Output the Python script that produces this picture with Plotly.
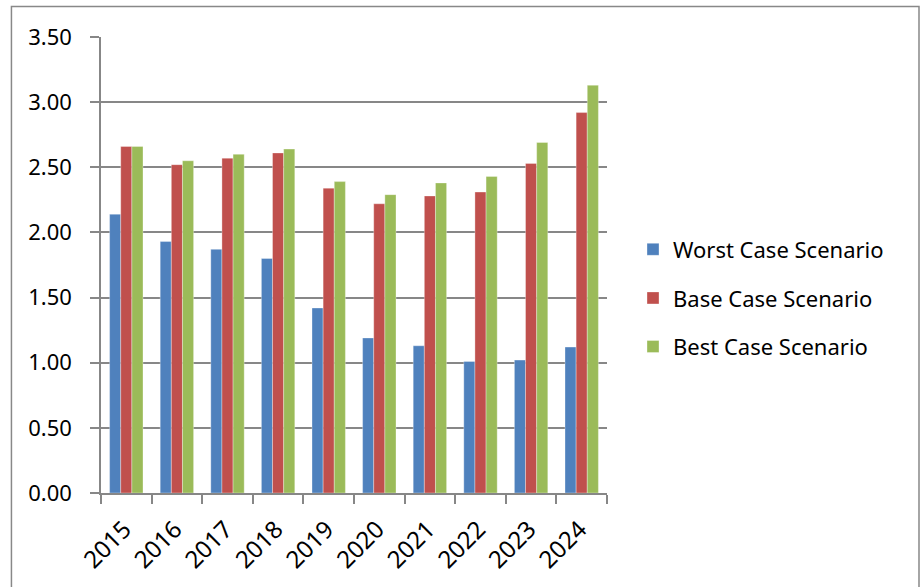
import plotly.graph_objects as go

years = ["2015", "2016", "2017", "2018", "2019", "2020", "2021", "2022", "2023", "2024"]
worst_case = [2.14, 1.93, 1.87, 1.80, 1.42, 1.19, 1.13, 1.01, 1.02, 1.12]
base_case = [2.66, 2.52, 2.57, 2.61, 2.34, 2.22, 2.28, 2.31, 2.53, 2.92]
best_case = [2.66, 2.55, 2.60, 2.64, 2.39, 2.29, 2.38, 2.43, 2.69, 3.13]
y_ticks = [0, 0.5, 1.0, 1.5, 2.0, 2.5, 3.0, 3.5]

series = [
    ("Worst Case Scenario", worst_case, "#4F81BD"),
    ("Base Case Scenario", base_case, "#C0504D"),
    ("Best Case Scenario", best_case, "#9BBB59"),
]

FONT = "Noto Sans"
GRID = "#878787"

fig = go.Figure()
for i, (name, vals, color) in enumerate(series):
    fig.add_trace(go.Bar(
        x=years, y=vals, name=name,
        marker=dict(color=color, line=dict(color="rgba(255,255,255,0.55)", width=0.6)),
        legendgroup=f"g{i}",
    ))

fig.update_layout(
    width=920, height=587,
    margin=dict(l=101, r=313, t=37, b=94),
    paper_bgcolor="white", plot_bgcolor="white",
    barmode="group", bargap=0.34, bargroupgap=0,
    font=dict(family=FONT, size=22, color="black"),
    showlegend=True,
    legend=dict(
        x=1.0514, xanchor="left", y=0.4276, yanchor="middle",
        font=dict(family=FONT, size=22, color="black"),
        traceorder="grouped", tracegroupgap=17,
        itemwidth=30, bgcolor="rgba(0,0,0,0)",
    ),
    xaxis=dict(
        type="category", showgrid=False,
        showline=True, linecolor=GRID, linewidth=1.5,
        ticks="outside", tickson="boundaries", ticklen=9, tickcolor=GRID, tickwidth=1.5,
        tickangle=-45, tickfont=dict(family=FONT, size=24),
        ticklabelstandoff=11, ticklabelshift=-2,
    ),
    yaxis=dict(
        range=[0, 3.5], tickvals=y_ticks, tickformat=".2f",
        showgrid=True, gridcolor=GRID, gridwidth=1.5,
        showline=True, linecolor=GRID, linewidth=1.5,
        ticks="outside", ticklen=9, tickcolor=GRID, tickwidth=1.5,
        tickfont=dict(family=FONT, size=22), ticklabelstandoff=14,
        zeroline=False,
    ),
    shapes=[
        dict(type="rect", xref="paper", yref="paper",
             x0=-0.177, x1=1.6166, y0=-0.3, y1=1.0669,
             line=dict(color="#888888", width=1.5), fillcolor="rgba(0,0,0,0)", layer="below"),
    ],
)

fig.write_html("out.html")
